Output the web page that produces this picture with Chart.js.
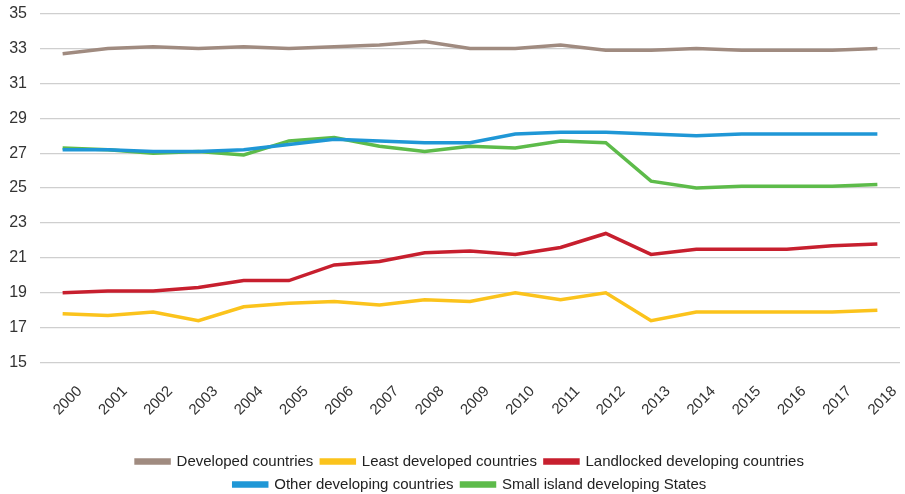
<!DOCTYPE html>
<html>
<head>
<meta charset="utf-8">
<script src="https://cdn.jsdelivr.net/npm/chart.js@4/dist/chart.umd.min.js"></script>
<style>
  html, body { margin: 0; padding: 0; background: #fff; }
  #wrap { width: 905px; height: 494px; }
</style>
</head>
<body>
<div id="wrap"><canvas id="lineChart"></canvas></div>
<script>
// Years on the category axis
const years = ['2000', '2001', '2002', '2003', '2004', '2005', '2006', '2007', '2008', '2009',
               '2010', '2011', '2012', '2013', '2014', '2015', '2016', '2017', '2018'];

// Series values per country group
const developed   = [32.7, 33.0, 33.1, 33.0, 33.1, 33.0, 33.1, 33.2, 33.4, 33.0, 33.0, 33.2, 32.9, 32.9, 33.0, 32.9, 32.9, 32.9, 33.0];
const leastDev    = [17.8, 17.7, 17.9, 17.4, 18.2, 18.4, 18.5, 18.3, 18.6, 18.5, 19.0, 18.6, 19.0, 17.4, 17.9, 17.9, 17.9, 17.9, 18.0];
const landlocked  = [19.0, 19.1, 19.1, 19.3, 19.7, 19.7, 20.6, 20.8, 21.3, 21.4, 21.2, 21.6, 22.4, 21.2, 21.5, 21.5, 21.5, 21.7, 21.8];
const otherDev    = [27.2, 27.2, 27.1, 27.1, 27.2, 27.5, 27.8, 27.7, 27.6, 27.6, 28.1, 28.2, 28.2, 28.1, 28.0, 28.1, 28.1, 28.1, 28.1];
const smallIsland = [27.3, 27.2, 27.0, 27.1, 26.9, 27.7, 27.9, 27.4, 27.1, 27.4, 27.3, 27.7, 27.6, 25.4, 25.0, 25.1, 25.1, 25.1, 25.2];

// Y axis range
const yMin = 15;
const yMax = 35;
const yStep = 2;

function series(label, data, color) {
    return {
        label: label,
        data: data,
        borderColor: color,
        backgroundColor: color,
        borderWidth: 3.5,
        pointRadius: 0,
        pointHoverRadius: 0,
        tension: 0,
        fill: false
    };
}

const fontFamily = '"Liberation Sans", Arial, Helvetica, sans-serif';

const ctx = document.getElementById('lineChart').getContext('2d');
new Chart(ctx, {
    type: 'line',
    data: {
        labels: years,
        datasets: [
            series('Developed countries', developed, '#a08b80'),
            series('Least developed countries', leastDev, '#fbc31c'),
            series('Landlocked developing countries', landlocked, '#c71f2e'),
            series('Other developing countries', otherDev, '#1f97d6'),
            series('Small island developing States', smallIsland, '#5dbb4a')
        ]
    },
    options: {
        responsive: true,
        maintainAspectRatio: false,
        animation: false,
        layout: { padding: { top: 5, left: 0, right: 5, bottom: -8 } },
        plugins: {
            tooltip: { enabled: false },
            legend: {
                position: 'bottom',
                fullSize: false,   // centre the legend under the plot area
                labels: {
                    color: '#222',
                    font: { family: fontFamily, size: 15 },
                    boxWidth: 33,
                    boxHeight: 3,
                    padding: 8
                }
            }
        },
        scales: {
            x: {
                offset: true,
                grid: { display: false, drawTicks: false },
                border: { display: false },
                ticks: {
                    color: '#333',
                    font: { family: fontFamily, size: 15 },
                    minRotation: 45,
                    maxRotation: 45,
                    labelOffset: 17,
                    padding: 20
                },
                // rotated labels are shifted by labelOffset, so no side padding is needed;
                // extra height leaves a gap above the legend
                afterFit(scale) {
                    scale.paddingLeft = 0;
                    scale.paddingRight = 0;
                    scale.height += 7;
                }
            },
            y: {
                min: yMin,
                max: yMax,
                grid: { color: '#cfcfcf', lineWidth: 1.2, drawTicks: false },
                border: { display: false },
                ticks: {
                    stepSize: yStep,
                    color: '#333',
                    font: { family: fontFamily, size: 16 },
                    padding: 13
                },
                afterFit(scale) {
                    scale.width = 40;
                    scale.paddingTop = 13.5;
                    scale.paddingBottom = 0;
                }
            }
        }
    }
});
</script>
</body>
</html>
